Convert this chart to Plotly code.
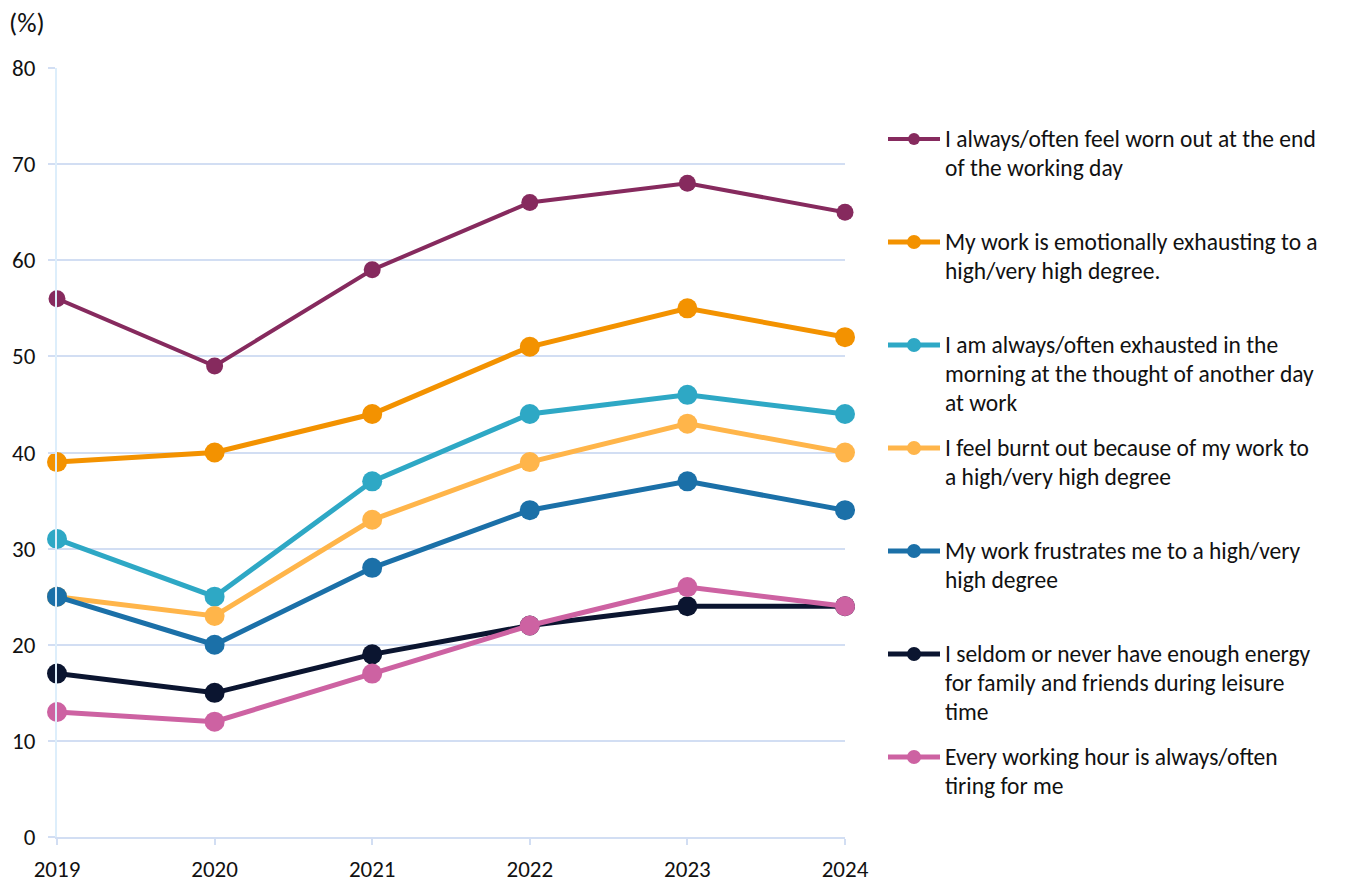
import plotly.graph_objects as go

# Survey years and share of respondents (%) per statement
years = [2019, 2020, 2021, 2022, 2023, 2024]

worn_out = [56, 49, 59, 66, 68, 65]
emotionally_exhausting = [39, 40, 44, 51, 55, 52]
morning_exhausted = [31, 25, 37, 44, 46, 44]
burnt_out = [25, 23, 33, 39, 43, 40]
frustrated = [25, 20, 28, 34, 37, 34]
low_energy = [17, 15, 19, 22, 24, 24]
every_hour_tiring = [13, 12, 17, 22, 26, 24]

series_values = [worn_out, emotionally_exhausting, morning_exhausted, burnt_out,
                 frustrated, low_energy, every_hour_tiring]

legend_lines = [
    ["I always/often feel worn out at the end", "of the working day"],
    ["My work is emotionally exhausting to a", "high/very high degree."],
    ["I am always/often exhausted in the", "morning at the thought of another day", "at work"],
    ["I feel burnt out because of my work to", "a high/very high degree"],
    ["My work frustrates me to a high/very", "high degree"],
    ["I seldom or never have enough energy", "for family and friends during leisure", "time"],
    ["Every working hour is always/often", "tiring for me"],
]

colors = ["#862A5E", "#F39200", "#2EA8C5", "#FFB54A", "#1B70A8", "#0B1530", "#CD62A2"]
line_widths = [4, 5, 5, 5, 5, 5, 5]
marker_sizes = [17, 20, 20, 20, 20, 20, 20]

y_ticks = [0, 10, 20, 30, 40, 50, 60, 70, 80]

FONT = "Carlito, Lato, Calibri, sans-serif"
TEXT = "#111111"
W, H = 1345, 882
L, R, T, B = 57, 500, 68, 45
plot_w = W - L - R
plot_h = H - T - B


def px_x(px):
    return (px - L) / plot_w


def px_y(py):
    return (H - B - py) / plot_h


fig = go.Figure()
for vals, lines, col, lw, ms in zip(series_values, legend_lines, colors, line_widths, marker_sizes):
    fig.add_trace(go.Scatter(
        x=years, y=vals, mode="lines+markers",
        name=" ".join(lines),
        line=dict(color=col, width=lw),
        marker=dict(color=col, size=ms),
        cliponaxis=False, showlegend=False,
    ))

# Legend drawn beside the plot: sample line, dot and wrapped label per series
legend_y0 = 139
legend_step = 103.0
line_gap = 29
shapes = []
annotations = []
for i, (lines, col, lw, ms) in enumerate(zip(legend_lines, colors, line_widths, marker_sizes)):
    yc = legend_y0 + i * legend_step
    shapes.append(dict(type="line", xref="paper", yref="paper",
                       x0=px_x(888), x1=px_x(940), y0=px_y(yc), y1=px_y(yc),
                       line=dict(color=col, width=lw)))
    d = ms * 0.7
    shapes.append(dict(type="circle", xref="paper", yref="paper",
                       xsizemode="pixel", ysizemode="pixel",
                       xanchor=px_x(914), yanchor=px_y(yc),
                       x0=-d / 2, x1=d / 2, y0=-d / 2, y1=d / 2,
                       fillcolor=col, line=dict(width=0)))
    for j, txt in enumerate(lines):
        annotations.append(dict(
            text=txt, xref="paper", yref="paper",
            x=px_x(943), y=px_y(yc + j * line_gap),
            xanchor="left", yanchor="middle", showarrow=False,
            font=dict(family=FONT, size=23.5, color=TEXT),
        ))

annotations.append(dict(
    text="(%)", xref="paper", yref="paper", x=px_x(7), y=px_y(23),
    xanchor="left", yanchor="middle", showarrow=False,
    font=dict(family=FONT, size=27, color=TEXT),
))

fig.update_layout(
    width=W, height=H,
    margin=dict(l=L, r=R, t=T, b=B, pad=0, autoexpand=False),
    paper_bgcolor="white", plot_bgcolor="white",
    font=dict(family=FONT, size=23, color=TEXT),
    shapes=shapes, annotations=annotations,
    showlegend=False,
)
fig.update_xaxes(
    range=[2019, 2024], tickvals=years, ticktext=[str(y) for y in years],
    automargin=False,
    showgrid=False, zeroline=False,
    showline=True, linecolor="#D2DEF3", linewidth=2,
    ticks="outside", ticklen=6, tickcolor="#D2DEF3", tickwidth=2,
    ticklabelstandoff=4,
    tickfont=dict(family=FONT, size=23, color=TEXT),
)
fig.update_yaxes(
    range=[0, 80], tickvals=y_ticks,
    automargin=False,
    showgrid=True, gridcolor="#D2DEF3", gridwidth=2, zeroline=False,
    showline=True, linecolor="#DDEEFB", linewidth=2,
    ticks="outside", ticklen=7, tickcolor="#D2DEF3", tickwidth=2,
    ticklabelstandoff=8,
    tickfont=dict(family=FONT, size=23, color=TEXT),
)

fig.write_html("out.html")
